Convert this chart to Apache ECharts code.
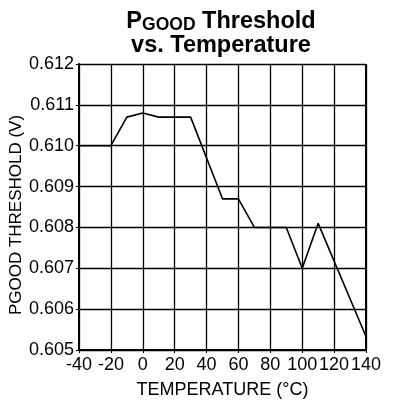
<!DOCTYPE html>
<html>
<head>
<meta charset="utf-8">
<script src="https://cdn.jsdelivr.net/npm/echarts@6/dist/echarts.min.js"></script>
<style>
  html, body { margin: 0; padding: 0; background: #fff; }
  #chart { width: 400px; height: 402px; }
</style>
</head>
<body>
<div id="chart"></div>
<script>
// 数据：温度与阈值
var temperatures = [-40, -20, -10, 0, 10, 30, 50, 60, 70, 90, 100, 110, 140]
var thresholds = [0.6100, 0.6100, 0.6107, 0.6108, 0.6107, 0.6107, 0.6087, 0.6087, 0.6080, 0.6080, 0.6070, 0.6081, 0.60533]
var xTicks = { min: -40, max: 140, step: 20 }
var yTicks = { min: 0.605, max: 0.612, step: 0.001 }

var points = temperatures.map(function (t, i) { return [t, thresholds[i]] })

var font = 'Liberation Sans, Arial, sans-serif'
var myChart = echarts.init(document.getElementById('chart'))

var option = {
  animation: false,
  title: {
    text: '{p|P}{s|GOOD}{b| Threshold}\n{b|vs. Temperature}',
    left: 216,
    top: 5,
    textAlign: 'center',
    textStyle: {
      rich: {
        p: { fontFamily: font, fontWeight: 'bold', fontSize: 23.5, lineHeight: 24, color: '#000', verticalAlign: 'bottom' },
        s: { fontFamily: font, fontWeight: 'bold', fontSize: 17.5, lineHeight: 24, color: '#000', verticalAlign: 'bottom' },
        b: { fontFamily: font, fontWeight: 'bold', fontSize: 23.5, lineHeight: 24, color: '#000', verticalAlign: 'bottom' }
      }
    }
  },
  grid: { left: 79, right: 34, top: 64, bottom: 52, outerBoundsMode: 'none' },
  xAxis: {
    type: 'value',
    min: xTicks.min,
    max: xTicks.max,
    interval: xTicks.step,
    name: 'TEMPERATURE (°C)',
    nameLocation: 'middle',
    nameGap: 31,
    nameTextStyle: { fontFamily: font, fontSize: 18, color: '#000' },
    axisLine: { show: true, onZero: false, lineStyle: { color: '#000', width: 2 } },
    axisTick: { show: true, length: 3, lineStyle: { color: '#000' } },
    axisLabel: { fontFamily: font, fontSize: 18, color: '#000', margin: 6 },
    splitLine: { show: true, lineStyle: { color: '#000', width: 1.3 } }
  },
  yAxis: {
    type: 'value',
    min: yTicks.min,
    max: yTicks.max,
    interval: yTicks.step,
    name: 'PGOOD THRESHOLD (V)',
    nameLocation: 'middle',
    nameGap: 54,
    nameMoveOverlap: false,
    nameTextStyle: { fontFamily: font, fontSize: 17, color: '#000', padding: [0, 16, 0, 0] },
    axisLine: { show: true, onZero: false, lineStyle: { color: '#000', width: 2 } },
    axisTick: { show: true, length: 3, lineStyle: { color: '#000' } },
    axisLabel: {
      fontFamily: font, fontSize: 18, color: '#000', margin: 5,
      formatter: function (v) { return v.toFixed(3) }
    },
    splitLine: { show: true, lineStyle: { color: '#000', width: 1.3 } }
  },
  series: [{
    type: 'line',
    data: points,
    symbol: 'none',
    lineStyle: { color: '#000', width: 1.6 }
  }]
}

myChart.setOption(option)

// 右边框
var p1 = myChart.convertToPixel('grid', [xTicks.max, yTicks.min])
var p2 = myChart.convertToPixel('grid', [xTicks.max, yTicks.max])
myChart.setOption({
  graphic: [{
    type: 'line',
    shape: { x1: p1[0], y1: p1[1], x2: p2[0], y2: p2[1] },
    style: { stroke: '#000', lineWidth: 2 }
  }]
})
</script>
</body>
</html>
